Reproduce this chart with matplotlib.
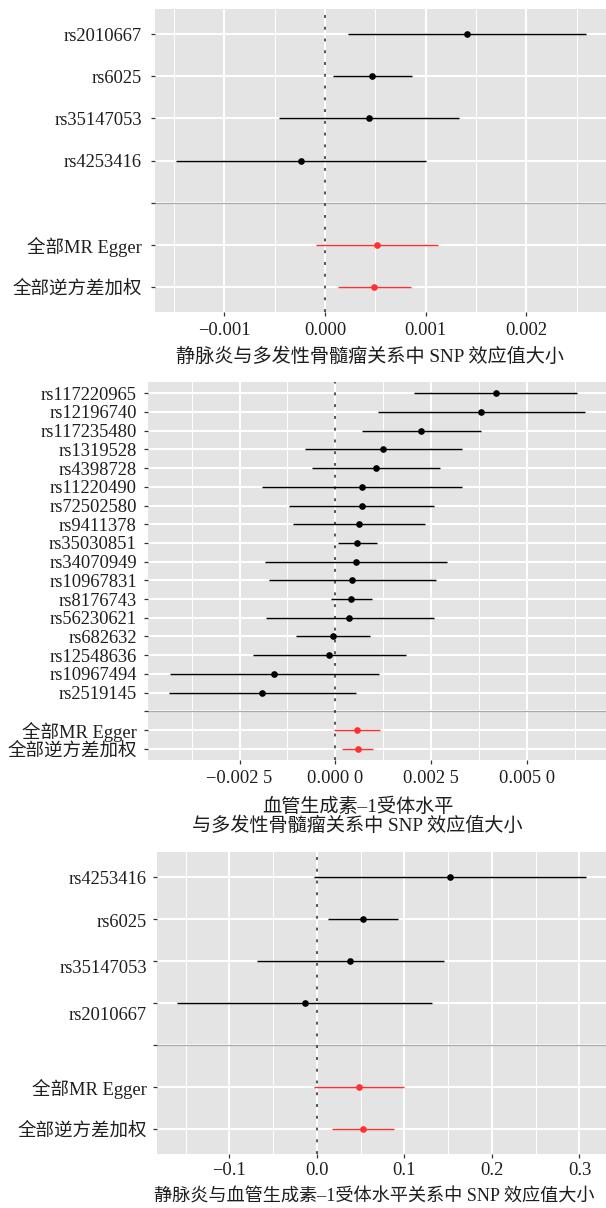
import matplotlib
matplotlib.use("Agg")
import matplotlib.pyplot as plt
import matplotlib.transforms as mtransforms
import numpy as np

plt.rcParams['font.family'] = ['Liberation Serif', 'Noto Sans CJK SC', 'DejaVu Sans']
plt.rcParams['axes.unicode_minus'] = True

# ---------------- data ----------------
# Panel 1: 静脉炎 -> 多发性骨髓瘤
p1_snps = ["rs2010667", "rs6025", "rs35147053", "rs4253416"]
p1_b    = [0.00141, 0.00047, 0.000441, -0.000242]
p1_lo   = [0.00023, 0.000084, -0.000452, -0.001483]
p1_hi   = [0.002586, 0.000862, 0.001333, 0.001000]
p1_sum_labels = ["全部MR Egger", "全部逆方差加权"]
p1_sum_b  = [0.000517, 0.00049]
p1_sum_lo = [-0.000092, 0.000127]
p1_sum_hi = [0.001123, 0.000854]
p1_xticks = [-0.001, 0.0, 0.001, 0.002]
p1_xticklabels = ["\u22120.001", "0.000", "0.001", "0.002"]
p1_xlabel = ["静脉炎与多发性骨髓瘤关系中 SNP 效应值大小"]

# Panel 2: 血管生成素-1受体水平 -> 多发性骨髓瘤
p2_snps = ["rs117220965", "rs12196740", "rs117235480", "rs1319528", "rs4398728",
           "rs11220490", "rs72502580", "rs9411378", "rs35030851", "rs34070949",
           "rs10967831", "rs8176743", "rs56230621", "rs682632", "rs12548636",
           "rs10967494", "rs2519145"]
p2_b  = [0.00418, 0.00380, 0.00224, 0.001256, 0.001056, 0.000684, 0.000684, 0.000613,
         0.000572, 0.000542, 0.000442, 0.000421, 0.000362, -0.00006, -0.000161,
         -0.0016, -0.001922]
p2_lo = [0.00204, 0.001106, 0.000684, -0.000786, -0.000614, -0.001912, -0.001197,
         -0.001106, 0.00006, -0.00184, -0.00173, -0.000101, -0.00182, -0.001035,
         -0.002143, -0.004315, -0.004345]
p2_hi = [0.00631, 0.00652, 0.0038, 0.0033, 0.002734, 0.0033, 0.002573, 0.002341,
         0.001095, 0.002926, 0.002625, 0.000965, 0.002563, 0.000905, 0.001839,
         0.001136, 0.000532]
p2_sum_labels = ["全部MR Egger", "全部逆方差加权"]
p2_sum_b  = [0.000562, 0.000583]
p2_sum_lo = [-0.00003, 0.00018]
p2_sum_hi = [0.001166, 0.000994]
p2_xticks = [-0.0025, 0.0, 0.0025, 0.005]
p2_xticklabels = ["\u22120.002 5", "0.000 0", "0.002 5", "0.005 0"]
p2_xlabel = ["血管生成素\u20131受体水平", "与多发性骨髓瘤关系中 SNP 效应值大小"]

# Panel 3: 静脉炎 -> 血管生成素-1受体水平
p3_snps = ["rs4253416", "rs6025", "rs35147053", "rs2010667"]
p3_b  = [0.1518, 0.0526, 0.0377, -0.0141]
p3_lo = [-0.003, 0.0131, -0.0689, -0.1593]
p3_hi = [0.307, 0.093, 0.1447, 0.1316]
p3_sum_labels = ["全部MR Egger", "全部逆方差加权"]
p3_sum_b  = [0.0478, 0.0526]
p3_sum_lo = [-0.003, 0.0175]
p3_sum_hi = [0.0991, 0.0877]
p3_xticks = [-0.1, 0.0, 0.1, 0.2, 0.3]
p3_xticklabels = ["\u22120.1", "0.0", "0.1", "0.2", "0.3"]
p3_xlabel = ["静脉炎与血管生成素\u20131受体水平关系中 SNP 效应值大小"]

# ---------------- style ----------------
W, H = 606, 1208
DPI = 100
BG = "#E4E4E4"
TXT = "#1E1E1E"
RED = "#FF3030"
FS_TICK = 13.3
FS_LAB = 13.8

fig = plt.figure(figsize=(W / DPI, H / DPI), dpi=DPI)


def px_axes(left, top, right, bottom):
    return fig.add_axes([left / W, 1 - bottom / H, (right - left) / W, (bottom - top) / H])


def forest(ax, snps, b, lo, hi, sl, sb, slo, shi, xticks, xticklabels, ypad, xpad,
           label_offsets=None):
    n = len(snps) + 3
    snp_pos = [n - i for i in range(len(snps))]
    sum_pos = [2, 1]
    sep_pos = 3

    all_lo = list(lo) + list(slo)
    all_hi = list(hi) + list(shi)
    xmin, xmax = min(all_lo), max(all_hi)
    rng = xmax - xmin
    ax.set_xlim(xmin - 0.05 * rng, xmax + 0.05 * rng)
    ax.set_ylim(0.4, n + 0.6)

    ax.set_facecolor(BG)
    for s in ax.spines.values():
        s.set_visible(False)

    # grid
    step = xticks[1] - xticks[0]
    minors = [xticks[0] - step / 2] + [t + step / 2 for t in xticks]
    for m in minors:
        ax.axvline(m, color="white", lw=0.7, zorder=0.5)
    for t in xticks:
        ax.axvline(t, color="white", lw=1.4, zorder=0.6)
    for y in range(1, n + 1):
        ax.axhline(y, color="white", lw=1.4, zorder=0.6)

    # separator
    ax.axhline(sep_pos, color="#A9A9A9", lw=0.9, zorder=1)
    # zero line
    ax.axvline(0, color="#262626", lw=1.1, linestyle=(0, (1.9, 5.8)), zorder=1.5)

    # estimates
    ax.hlines(snp_pos, lo, hi, color="black", lw=1.05, zorder=2)
    ax.plot(b, snp_pos, "o", color="black", ms=4.8, mec="none", zorder=3)
    ax.hlines(sum_pos, slo, shi, color=RED, lw=1.05, zorder=2)
    ax.plot(sb, sum_pos, "o", color=RED, ms=4.8, mec="none", zorder=3)

    ax.set_yticks(snp_pos + [sep_pos] + sum_pos)
    ax.set_yticklabels(list(snps) + [""] + list(sl), fontsize=FS_TICK, color=TXT)
    ax.set_xticks(xticks)
    ax.set_xticklabels(xticklabels, fontsize=FS_TICK, color=TXT)
    ax.tick_params(axis="y", length=3.0, width=0.9, color="#333333", pad=ypad)
    ax.tick_params(axis="x", length=3.0, width=0.9, color="#333333", pad=xpad)

    if label_offsets:
        labels = ax.get_yticklabels()
        for idx, dy in label_offsets.items():
            off = mtransforms.ScaledTranslation(0, -dy / DPI, fig.dpi_scale_trans)
            labels[idx].set_transform(labels[idx].get_transform() + off)


ax1 = px_axes(155, 9, 606, 312)
forest(ax1, p1_snps, p1_b, p1_lo, p1_hi, p1_sum_labels, p1_sum_b, p1_sum_lo, p1_sum_hi,
       p1_xticks, p1_xticklabels, ypad=6.5, xpad=4.0)
fig.text(370 / W, 1 - 357 / H, p1_xlabel[0], ha="center", va="center",
         fontsize=FS_LAB, color=TXT)

ax2 = px_axes(148, 382, 606, 760)
forest(ax2, p2_snps, p2_b, p2_lo, p2_hi, p2_sum_labels, p2_sum_b, p2_sum_lo, p2_sum_hi,
       p2_xticks, p2_xticklabels, ypad=5.0, xpad=4.0)
fig.text(357.6 / W, 1 - 807 / H, p2_xlabel[0], ha="center", va="center",
         fontsize=FS_LAB, color=TXT)
fig.text(357.6 / W, 1 - 825.5 / H, p2_xlabel[1], ha="center", va="center",
         fontsize=FS_LAB, color=TXT)

ax3 = px_axes(157, 852, 606, 1154)
forest(ax3, p3_snps, p3_b, p3_lo, p3_hi, p3_sum_labels, p3_sum_b, p3_sum_lo, p3_sum_hi,
       p3_xticks, p3_xticklabels, ypad=4.3, xpad=2.5,
       label_offsets={1: 1.5, 2: 5, 3: 10})
fig.text(154 / W, 1 - 1197 / H, p3_xlabel[0], ha="left", va="center",
         fontsize=13.1, color=TXT)

fig.savefig("out.png", dpi=DPI)
